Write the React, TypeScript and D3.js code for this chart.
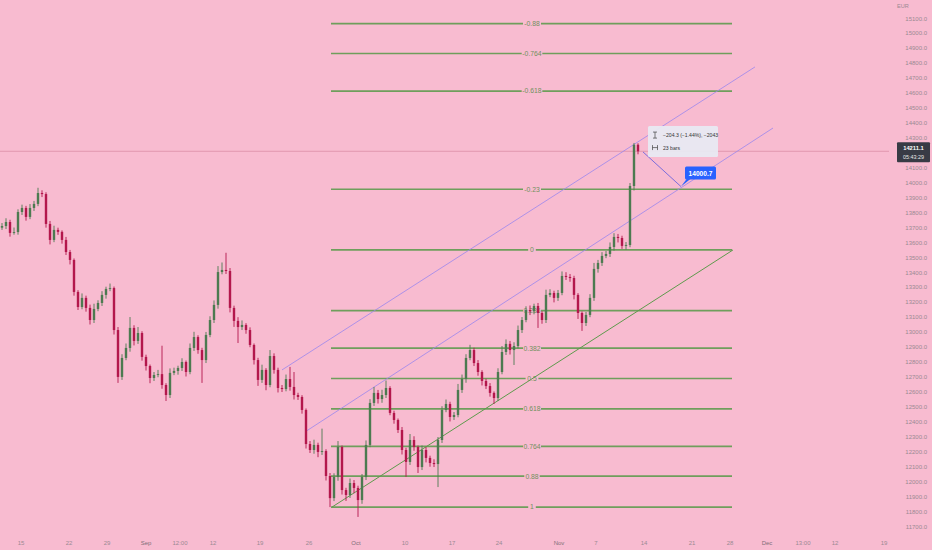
import React from 'react';
import * as d3 from 'd3';

// ---- data ----
const firstOpen = 13700;
const closes = [
  13711, 13738, 13665, 13671, 13805, 13832, 13772, 13832, 13859, 13932,
  13925, 13725, 13618, 13685, 13672, 13618, 13537, 13484, 13270, 13169,
  13230, 13163, 13082, 13156, 13196, 13250, 13290, 13296, 13015, 12701,
  12828, 12895, 13029, 12942, 12995, 12835, 12774, 12694, 12714, 12720,
  12647, 12580, 12728, 12741, 12761, 12801, 12734, 12895, 12968, 12881,
  12814, 12982, 13082, 13183, 13403, 13417, 13410, 13163, 13076, 13035,
  13049, 13015, 12915, 12814, 12681, 12748, 12647, 12841, 12748, 12627,
  12620, 12687, 12634, 12580, 12567, 12480, 12252, 12212, 12246, 12199,
  12205, 12038, 11890, 12031, 12232, 11944, 11911, 11991, 11958, 11877,
  12031, 12246, 12527, 12594, 12553, 12580, 12627, 12460, 12413, 12346,
  12212, 12132, 12279, 12232, 12098, 12212, 12159, 12125, 12118, 12279,
  12480, 12520, 12433, 12446, 12614, 12687, 12828, 12881, 12794, 12734,
  12674, 12640, 12594, 12560, 12734, 12868, 12922, 12881, 12908, 13015,
  13082, 13149, 13140, 13176, 13129, 13082, 13250, 13263, 13230, 13263,
  13377, 13370, 13363, 13250, 13129, 13062, 13116, 13230, 13424, 13464,
  13511, 13524, 13571, 13638, 13631, 13578, 13584, 13979, 14255, 14211.1,
];
const wickUp = [
  20, 25, 15, 30, 18, 22, 14, 26, 20, 35,
  18, 12, 20, 28, 15, 10, 20, 14, 10, 12,
  30, 15, 22, 35, 18, 25, 15, 30, 10, 20,
  25, 30, 73, 18, 40, 12, 15, 10, 20, 28,
  190, 12, 30, 22, 15, 25, 10, 30, 35, 12,
  15, 20, 25, 30, 40, 50, 115, 20, 15, 25,
  30, 12, 18, 10, 15, 35, 12, 40, 18, 15,
  20, 30, 81, 100, 15, 12, 10, 20, 35, 15,
  150, 12, 20, 25, 40, 10, 15, 30, 20, 15,
  20, 30, 25, 40, 20, 35, 50, 12, 15, 10,
  20, 15, 40, 25, 10, 30, 20, 15, 25, 20,
  25, 30, 15, 20, 40, 30, 25, 35, 15, 20,
  12, 15, 20, 10, 25, 40, 30, 20, 25, 30,
  20, 25, 30, 15, 20, 12, 35, 25, 15, 20,
  30, 25, 20, 15, 12, 10, 20, 25, 40, 20,
  25, 20, 30, 25, 20, 15, 20, 20, 12, 10,
];
const wickDown = [
  15, 20, 25, 12, 18, 20, 25, 15, 20, 15,
  20, 25, 30, 15, 20, 25, 20, 30, 25, 20,
  15, 25, 30, 20, 15, 20, 25, 15, 30, 40,
  20, 15, 25, 30, 20, 25, 30, 35, 20, 15,
  25, 40, 20, 15, 25, 20, 30, 15, 20, 25,
  153, 20, 15, 20, 25, 15, 20, 30, 40, 107,
  20, 25, 15, 30, 40, 20, 35, 15, 25, 30,
  20, 15, 25, 30, 20, 25, 30, 20, 25, 35,
  20, 30, 60, 20, 25, 30, 40, 20, 35, 113,
  25, 20, 15, 20, 30, 25, 20, 15, 25, 20,
  30, 100, 20, 25, 40, 20, 30, 25, 20, 154,
  20, 15, 30, 20, 15, 20, 25, 15, 20, 25,
  30, 20, 25, 40, 20, 15, 20, 30, 100, 15,
  20, 15, 25, 20, 100, 25, 20, 15, 30, 20,
  15, 20, 25, 30, 40, 53, 20, 15, 20, 25,
  20, 15, 20, 25, 30, 20, 25, 15, 30, 20,
];

// 14200.0 is hidden behind the last-price badge in the reference
const priceTicks = [
  15100, 15000, 14900, 14800, 14700, 14600, 14500, 14400, 14300,
  14100, 14000, 13900, 13800, 13700, 13600, 13500, 13400, 13300, 13200,
  13100, 13000, 12900, 12800, 12700, 12600, 12500, 12400, 12300, 12200,
  12100, 12000, 11900, 11800, 11700,
];
const timeTickBars = [4.75, 16.75, 26.25, 36, 44.5, 52.75, 64.5, 76.75, 88.5, 100.75, 112.5, 124.25, 139.25, 148.5, 160.5, 172.5, 182, 191.25, 200.25, 208.25, 220.5];
const timeTickLabels = ['15', '22', '29', 'Sep', '12:00', '12', '19', '26', 'Oct', '10', '17', '24', 'Nov', '7', '14', '21', '28', 'Dec', '13:00', '12', '19'];
const monthLabels = ['Sep', 'Oct', 'Nov', 'Dec'];

const fibLevels = [-0.88, -0.764, -0.618, -0.236, 0, 0.236, 0.382, 0.5, 0.618, 0.764, 0.88, 1];
const fibLabels = ['-0.88', '-0.764', '-0.618', '-0.23', '0', '0.236', '0.382', '0.5', '0.618', '0.764', '0.88', '1'];
const fibStartBar = 82.25;
const fibEndBar = 182.5;
const fibPrice0 = 13551;
const fibPrice1 = 11830;
const fibLabelBar = 132.5;

const greenTrend = [82.5, 11830, 182.75, 13551];
const channelUpper = [70, 12748, 188.25, 14776];
const channelLower = [75.75, 12333, 192.75, 14367];
const measureLine = [160.25, 14207, 169.75, 13975];
const measureText = '−204.3 (−1.44%), −2043';
const measureBars = '23 bars';
const measurePrice = '14000.7';
const lastPrice = 14211.1;
const countdown = '05:43:29';
const currency = 'EUR';

// ---- layout ----
const W = 932;
const H = 550;
const FONT = '"Liberation Sans", Arial, sans-serif';
const BG = '#f8bbd0';
const UP = '#4c7a50';
const DOWN = '#b3174c';
const FIB = '#6f9e5c';

export default function App() {
  const x = d3.scaleLinear().domain([0, 220]).range([2, 882]);
  const y = d3.scaleLinear().domain([11700, 15100]).range([526.5, 18.5]);

  const candles = closes.map((c, i) => {
    const o = i === 0 ? firstOpen : closes[i - 1];
    const h = Math.max(o, c) + wickUp[i];
    const l = Math.min(o, c) - wickDown[i];
    return { i, o, c, h, l };
  });
  const bw = 2.4;

  const fibPrice = (lv: number) => fibPrice0 - lv * (fibPrice0 - fibPrice1);
  const line = (a: number[]) => ({ x1: x(a[0]), y1: y(a[1]), x2: x(a[2]), y2: y(a[3]) });

  const mEnd = { x: x(measureLine[2]), y: y(measureLine[3]) };
  const mStart = { x: x(measureLine[0]), y: y(measureLine[1]) };
  const tipX = mStart.x + 5;
  const tipY = y(14400) + 3;
  const lblX = mEnd.x + 4;
  const lblY = mEnd.y - 20;
  const lp = y(lastPrice);

  return (
    <svg width={W} height={H} style={{ position: 'absolute', left: 0, top: 0, display: 'block' }} fontFamily={FONT}>
      <rect x={0} y={0} width={W} height={H} fill={BG} />

      {/* last price line */}
      <line x1={0} x2={889} y1={lp} y2={lp} stroke="#d98aa2" strokeWidth={0.7} />

      {/* fib retracement */}
      {fibLevels.map((lv, k) => {
        const py = y(fibPrice(lv));
        const tx = x(fibLabelBar);
        const gap = fibLabels[k].length * 2.6 + 5;
        return (
          <g key={'fib' + k}>
            <line x1={x(fibStartBar)} x2={tx - gap / 2} y1={py} y2={py} stroke={FIB} strokeWidth={1.7} />
            <line x1={tx + gap / 2} x2={x(fibEndBar)} y1={py} y2={py} stroke={FIB} strokeWidth={1.7} />
            <text x={tx} y={py + 2.4} fontSize={6.8} fill="#729060" textAnchor="middle">{fibLabels[k]}</text>
          </g>
        );
      })}

      {/* trend lines */}
      <line {...line(greenTrend)} stroke="#5e9a4c" strokeWidth={1} />
      <line {...line(channelUpper)} stroke="#9a86ee" strokeWidth={0.8} />
      <line {...line(channelLower)} stroke="#9a86ee" strokeWidth={0.8} />

      {/* candles */}
      {candles.map((d) => {
        const col = d.c >= d.o ? UP : DOWN;
        const cx = x(d.i);
        const top = y(Math.max(d.o, d.c));
        const bot = y(Math.min(d.o, d.c));
        return (
          <g key={'c' + d.i}>
            <line x1={cx} x2={cx} y1={y(d.h)} y2={y(d.l)} stroke={col} strokeWidth={0.9} />
            <rect x={cx - bw / 2} y={top} width={bw} height={Math.max(0.8, bot - top)} fill={col} />
          </g>
        );
      })}

      {/* measure tool */}
      <line x1={mStart.x} y1={mStart.y} x2={mEnd.x} y2={mEnd.y} stroke="#6d63dc" strokeWidth={0.9} />
      <g>
        <rect x={tipX} y={tipY} width={70} height={31} fill="#e8e9f2" fillOpacity={0.95} rx={1.5} />
        <g stroke="#444" strokeWidth={0.7} fill="none">
          <line x1={tipX + 7} x2={tipX + 7} y1={tipY + 6} y2={tipY + 12} />
          <line x1={tipX + 5} x2={tipX + 9} y1={tipY + 6} y2={tipY + 6} />
          <line x1={tipX + 5} x2={tipX + 9} y1={tipY + 12} y2={tipY + 12} />
          <line x1={tipX + 4.5} x2={tipX + 4.5} y1={tipY + 19} y2={tipY + 24} />
          <line x1={tipX + 9.5} x2={tipX + 9.5} y1={tipY + 19} y2={tipY + 24} />
          <line x1={tipX + 4.5} x2={tipX + 9.5} y1={tipY + 21.5} y2={tipY + 21.5} />
        </g>
        <text x={tipX + 15} y={tipY + 11} fontSize={5.1} fill="#333">{measureText}</text>
        <text x={tipX + 15} y={tipY + 23.5} fontSize={5.1} fill="#333">{measureBars}</text>
      </g>
      <path d={`M${mEnd.x},${mEnd.y} L${lblX + 2},${lblY + 12} L${lblX + 6},${lblY + 12} Z`} fill="#2962ff" />
      <rect x={lblX} y={lblY} width={31} height={13} fill="#2962ff" rx={1.5} />
      <text x={lblX + 15.5} y={lblY + 9} fontSize={6.6} fontWeight="bold" fill="#fff" textAnchor="middle">{measurePrice}</text>

      {/* price axis */}
      <text x={903} y={8} fontSize={5.6} fill="#9a8a92" textAnchor="middle">{currency}</text>
      {priceTicks.map((p) => (
        <text key={'p' + p} x={927} y={y(p) + 2} fontSize={6} fill="#9a8a92" textAnchor="end">{p.toFixed(1)}</text>
      ))}
      <rect x={897} y={lp - 9} width={33} height={20} fill="#383b45" rx={1} />
      <text x={913.5} y={lp - 1.5} fontSize={5.8} fontWeight="bold" fill="#fff" textAnchor="middle">{lastPrice.toFixed(1)}</text>
      <text x={913.5} y={lp + 7.8} fontSize={5.4} fill="#e8e8e8" textAnchor="middle">{countdown}</text>

      {/* time axis */}
      {timeTickBars.map((b, k) => (
        <text key={'t' + k} x={x(b)} y={544.5} fontSize={6} fill={monthLabels.includes(timeTickLabels[k]) ? '#7e6f77' : '#9a8a92'} textAnchor="middle">{timeTickLabels[k]}</text>
      ))}
    </svg>
  );
}
